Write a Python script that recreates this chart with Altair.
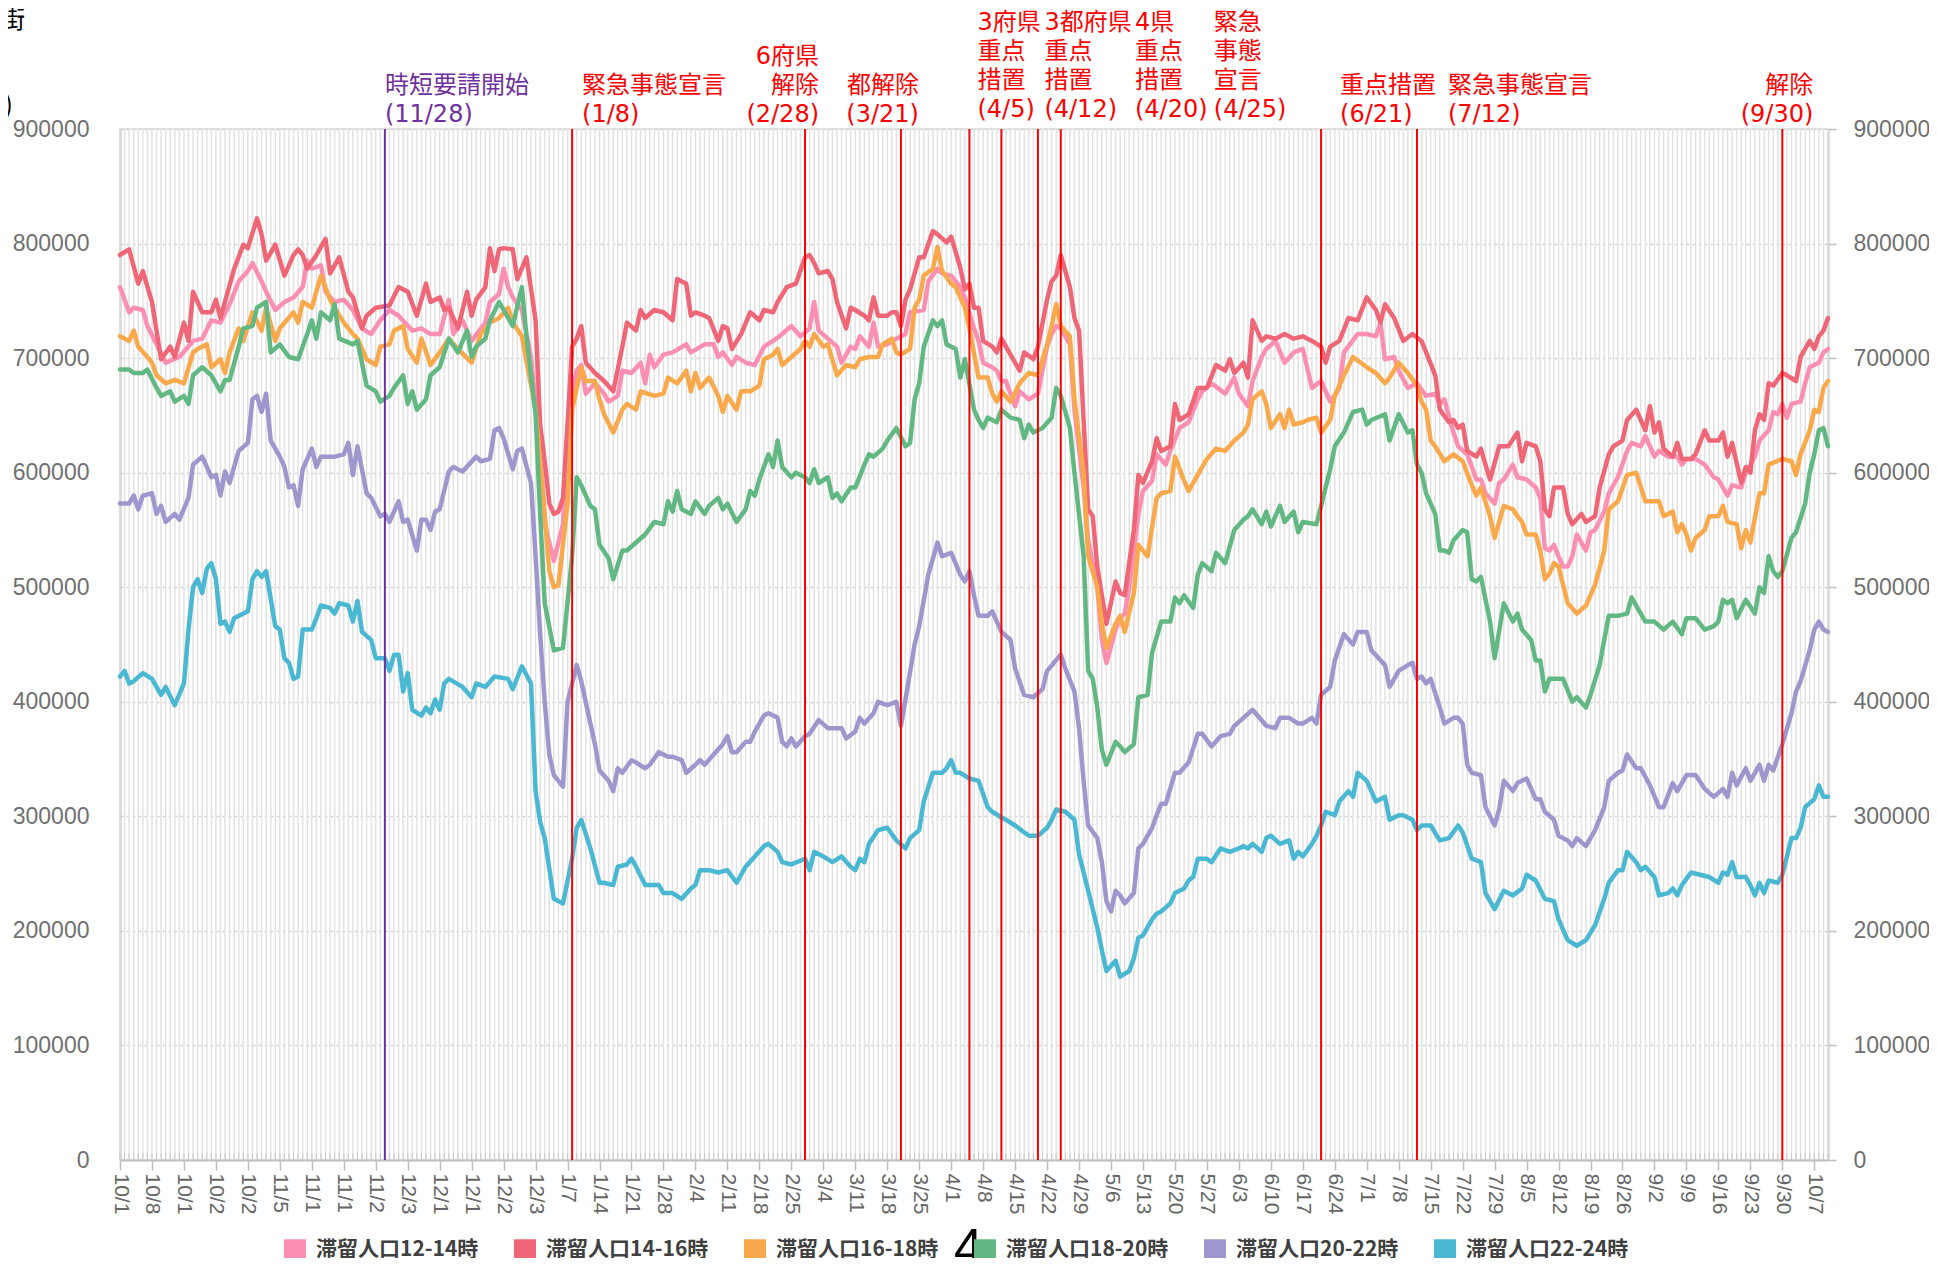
import json
import pandas as pd
import altair as alt

# ---------------- data ----------------
START = "2020-10-01"
LAST_DAY = 374  # 2021-10-10

SERIES = ["滞留人口12-14時", "滞留人口14-16時", "滞留人口16-18時",
          "滞留人口18-20時", "滞留人口20-22時", "滞留人口22-24時"]
COLORS = ["#fb8fb2", "#ef6677", "#f9a94b", "#62b882", "#9d97cd", "#4ab8d2"]

UNIT = 1000  # values below are in thousands of people

# 12-14時
S1_DAY = [0,2,3,5,6,8,10,13,16,18,20,22,24,26,28,29,31,32,34,36,38,40,41,42,44,45,47,49,51,53,55,57,59,61,64,66,68,70,72,73,75,77,80,81,83,84,85,86,88,90,92,93,95,97,98,100,101,102,104,106,107,109,110,112,114,115,116,117,119,121,124,125,128,130,131,132,134,135,137,139,141,143,145,147,149,151,152,153,155,157,158,160,161,162,164,165,166,168,170,172,173,176,177,179,180,182,184,185,187,188,189,191,192,193,194,196,197,199,201,203,204,205,206,208,209,211,212,214,215,216,218,219,220,221,223,224,226,227,229,230,232,234,236,237,239,242,244,245,247,248,250,251,253,255,257,259,261,263,265,267,268,271,273,275,276,277,279,280,282,284,286,288,289,290,292,293,295,297,298,299,301,302,303,305,306,308,310,311,312,313,314,315,316,317,318,319,321,322,323,325,326,328,330,331,333,334,336,337,339,341,342,343,345,347,349,350,351,352,353,355,356,358,359,361,362,363,364,365,366,368,369,370,372,373,374]
S1_VAL = [762,740,744,742,728,712,696,701,715,717,733,731,747,767,776,783,767,758,742,749,753,762,785,778,781,758,749,751,742,726,721,733,742,737,724,726,721,721,751,721,733,715,731,749,756,778,762,753,742,701,619,555,523,555,642,689,694,669,678,669,662,667,689,687,696,678,703,692,703,705,712,705,712,712,701,705,694,701,696,694,710,715,721,728,719,726,749,724,717,710,696,710,708,719,710,731,710,712,717,721,740,742,767,778,774,772,762,753,726,715,696,692,689,680,680,658,671,664,669,710,721,728,726,712,655,587,541,500,454,434,463,473,477,500,564,584,593,616,607,619,639,644,664,671,678,669,683,669,658,680,701,708,715,696,705,708,674,680,662,674,705,721,721,719,731,699,701,689,674,678,667,669,660,664,635,623,616,594,594,582,573,591,594,607,596,594,587,578,534,532,537,527,518,518,527,546,532,548,550,566,582,596,619,626,623,632,614,619,614,614,607,612,612,607,596,594,587,580,589,587,600,614,628,637,653,651,660,648,660,662,678,692,696,705,708]

# 14-16時
S2_DAY = [0,2,4,5,7,9,11,12,14,15,16,18,20,21,22,25,27,28,30,31,32,34,36,38,39,40,41,43,45,46,48,50,51,53,54,56,59,61,63,65,67,68,70,71,72,74,76,77,78,80,81,82,83,84,86,87,89,91,92,93,94,95,96,97,98,99,100,101,102,104,106,108,110,111,113,114,115,117,119,121,122,124,125,126,128,129,131,132,133,134,136,138,140,141,143,144,146,148,150,151,152,153,155,156,157,159,160,161,163,164,165,166,168,169,170,171,172,173,175,176,178,179,181,182,184,185,186,187,188,189,191,192,193,195,197,198,200,201,203,204,205,206,208,209,210,211,212,213,214,216,218,219,220,222,223,224,226,227,228,230,231,232,234,236,238,240,242,243,244,246,247,248,250,251,253,255,257,259,261,263,264,265,267,269,271,273,275,276,277,279,281,283,285,286,288,289,291,292,293,294,295,297,298,299,300,302,304,306,307,308,310,311,312,313,314,316,317,318,320,321,323,324,326,327,329,330,332,334,335,336,337,338,340,341,342,344,345,347,348,350,351,352,353,355,356,357,358,359,360,361,362,364,365,367,368,370,371,372,373,374]
S2_VAL = [790,795,765,776,749,699,710,701,731,715,758,740,740,751,735,778,799,796,822,808,785,799,772,790,795,790,778,790,804,774,788,758,753,726,737,744,746,762,758,737,765,749,753,742,744,726,758,737,751,762,796,776,795,796,795,769,788,733,642,610,573,564,566,578,642,710,717,728,696,687,680,671,710,731,724,742,735,742,740,733,769,765,737,740,737,735,715,728,726,708,721,740,733,742,740,749,762,765,788,790,783,774,776,769,749,726,744,742,737,733,753,737,737,740,740,728,751,760,788,788,811,808,801,806,779,760,765,744,744,715,710,705,717,703,689,705,699,710,751,767,772,790,762,735,724,646,568,562,518,468,505,495,493,550,598,591,610,630,619,623,660,646,651,674,674,694,689,699,687,696,683,733,715,719,717,721,717,719,715,710,696,710,715,735,733,753,742,731,747,735,715,721,715,705,685,655,644,646,639,642,619,614,621,607,594,623,623,635,610,626,623,610,568,562,587,587,564,555,564,557,562,587,616,623,628,646,655,637,658,635,644,621,614,626,612,612,616,637,628,628,635,614,626,591,605,600,637,651,646,678,676,687,685,680,701,715,708,719,724,735]

# 16-18時
S3_DAY = [0,2,3,4,6,7,8,10,12,14,16,17,19,20,22,23,24,26,27,29,31,32,34,35,38,39,40,42,44,46,47,49,51,52,54,56,57,59,60,62,63,65,66,68,70,72,74,77,79,81,83,85,86,88,91,93,94,95,96,98,99,101,102,104,105,106,108,110,111,113,114,117,119,120,122,124,125,126,127,129,131,132,133,135,136,138,140,141,143,144,145,147,149,150,151,152,154,155,157,159,161,162,164,166,167,169,170,171,173,174,175,176,178,179,180,182,183,185,186,188,190,191,192,193,195,197,199,201,203,204,205,206,208,209,211,212,214,215,216,218,219,220,222,223,225,227,228,230,231,233,234,236,238,240,242,244,246,247,248,250,251,252,254,255,256,257,259,260,262,263,265,266,268,270,273,275,277,278,280,282,284,285,286,287,288,290,292,294,296,297,298,300,301,303,305,306,307,308,310,311,312,313,314,315,317,319,321,323,325,326,328,330,332,334,336,337,338,340,341,342,343,344,345,347,348,350,351,352,354,355,356,357,359,360,361,364,366,367,368,370,371,372,373,374]
S3_VAL = [719,715,724,710,701,696,685,678,681,678,705,708,712,692,699,687,705,726,715,740,724,744,715,726,740,731,749,744,772,751,744,731,721,717,699,694,710,712,724,728,708,696,717,694,705,717,708,696,721,731,735,744,731,719,655,564,514,500,502,573,655,692,680,680,664,651,635,655,660,655,671,667,669,683,678,689,671,687,674,683,667,653,667,655,671,671,676,699,703,708,694,701,708,715,710,721,710,712,685,694,692,699,701,701,712,717,705,703,708,744,751,772,778,797,776,765,762,744,726,683,683,669,662,671,662,678,687,685,712,728,747,728,719,664,600,527,500,468,447,468,475,461,495,537,527,578,582,584,614,593,584,598,612,621,619,628,635,642,664,671,660,639,651,639,655,642,644,646,648,635,646,667,685,701,692,687,678,683,696,687,676,662,655,628,623,610,616,610,589,580,587,562,543,571,568,562,557,546,546,532,507,512,521,518,486,477,484,502,532,568,575,598,600,575,575,575,562,566,548,555,546,532,543,550,562,562,571,557,555,534,550,539,582,582,607,612,610,598,616,637,655,653,674,680]

# 18-20時
S4_DAY = [0,2,3,5,6,8,9,11,12,14,15,16,18,20,22,23,24,26,27,29,30,32,33,35,37,39,41,42,43,44,46,47,48,51,52,54,56,57,59,60,62,63,64,65,67,68,70,72,74,76,77,78,80,81,83,84,86,88,89,91,92,93,95,97,99,100,101,103,104,105,107,108,110,111,113,115,117,119,120,121,122,123,125,126,128,129,131,132,133,135,137,138,139,140,142,143,144,145,147,148,150,151,152,153,155,156,157,158,160,161,163,164,165,167,168,170,172,173,174,175,176,178,179,180,181,183,184,185,187,188,189,190,192,193,195,197,198,199,200,202,204,205,206,208,209,211,212,213,214,215,216,218,219,220,222,223,225,226,228,230,231,232,233,235,236,237,239,240,242,244,246,247,248,250,251,252,254,255,257,258,259,262,264,265,266,268,270,272,273,274,277,278,280,282,283,284,285,286,288,289,290,291,292,294,295,296,297,298,300,301,303,305,306,307,309,310,311,312,313,316,318,319,321,322,324,325,326,328,330,331,333,334,336,338,340,342,343,345,347,349,350,351,352,353,354,356,358,359,360,361,362,363,364,366,367,369,370,371,372,373,374]
S4_VAL = [690,690,687,687,690,674,667,671,662,667,660,685,692,685,671,681,681,710,726,728,744,749,705,712,701,699,721,733,717,740,733,747,717,712,715,676,671,662,667,674,685,660,671,655,664,685,692,717,705,724,701,710,717,733,749,742,728,762,719,651,564,486,445,447,527,596,589,571,568,537,525,507,532,532,539,546,557,555,575,566,584,568,564,575,564,571,578,568,573,557,568,584,580,594,616,605,628,605,596,600,596,591,603,591,596,578,582,575,587,587,607,616,614,621,628,639,623,626,664,678,710,733,728,733,712,708,683,699,655,646,639,648,644,655,648,646,630,642,635,639,648,674,667,639,600,527,427,420,395,358,345,365,361,356,363,404,406,443,470,470,491,486,493,482,511,521,514,530,521,550,559,562,568,555,566,553,571,557,566,548,557,555,587,603,623,635,653,655,642,646,651,628,651,635,637,607,600,582,564,532,532,530,541,550,548,507,505,509,470,438,486,470,477,463,454,436,436,409,420,420,400,404,395,406,432,454,475,475,477,491,477,470,470,463,470,459,473,473,463,466,470,489,486,489,473,489,477,500,495,527,514,509,514,543,548,573,600,616,637,639,623]

# 20-22時
S5_DAY = [0,2,3,4,5,7,8,9,10,12,13,15,16,18,20,21,22,23,24,26,28,29,30,31,32,33,35,36,37,38,39,40,42,43,44,47,49,50,51,52,54,55,57,58,59,61,62,63,65,66,67,68,69,70,72,73,75,78,79,81,82,83,84,86,87,88,90,91,92,93,94,95,97,98,100,101,103,104,105,107,108,109,110,112,113,115,116,118,120,121,123,124,126,127,128,130,132,133,134,135,137,138,139,141,142,144,145,146,147,148,150,151,153,155,157,158,159,161,162,163,165,166,168,170,171,172,174,175,177,178,179,180,182,184,185,186,187,188,190,191,192,193,195,196,198,200,202,203,206,207,209,210,211,212,214,215,216,217,218,219,220,222,223,224,226,227,228,229,231,232,234,236,237,239,241,243,244,246,248,251,253,254,256,258,259,261,262,263,265,266,268,270,271,273,274,277,278,280,282,283,284,285,286,287,289,290,292,293,294,295,296,298,299,301,302,303,305,306,308,310,311,312,314,315,317,318,319,321,323,325,326,328,329,330,332,333,335,337,338,340,341,343,345,347,349,351,352,353,354,356,357,359,360,361,362,364,366,367,368,370,371,372,373,374]
S5_VAL = [573,573,580,568,580,582,564,571,557,564,559,578,607,614,596,598,580,601,591,619,626,664,667,653,669,628,614,605,587,589,571,603,621,605,614,614,616,626,598,623,582,578,562,564,557,575,557,559,532,559,559,550,566,568,601,605,601,614,610,612,637,639,630,603,619,621,591,527,459,400,354,336,326,400,432,418,381,363,340,331,322,342,338,349,347,342,345,356,352,352,349,338,345,349,345,354,363,370,356,356,365,365,374,388,390,386,365,361,368,361,370,372,384,377,377,377,368,374,386,381,390,400,397,400,379,402,450,466,511,525,539,527,530,511,505,514,493,475,475,479,470,461,454,429,406,404,411,427,441,429,409,377,331,292,281,260,226,217,235,231,224,233,272,276,290,301,311,311,338,338,347,372,372,361,370,372,379,386,393,379,377,386,386,381,381,386,381,406,413,436,459,450,461,461,445,432,413,427,432,434,420,422,416,420,395,381,386,386,381,345,338,336,308,292,306,331,322,329,333,315,315,304,297,283,279,274,281,274,288,308,331,338,340,354,342,342,327,308,308,329,322,336,336,324,317,324,317,338,327,342,331,345,331,345,340,363,390,409,418,445,463,470,463,461]

# 22-24時
S6_DAY = [0,1,2,3,5,7,9,10,12,14,15,16,17,18,19,20,21,22,23,24,25,28,29,30,31,32,34,35,36,37,38,39,40,42,43,44,46,47,48,50,51,52,53,55,56,58,59,60,61,62,63,64,66,67,68,69,70,71,72,75,77,78,80,82,85,86,88,90,91,92,93,95,97,99,100,101,103,105,106,108,109,111,112,113,115,118,119,121,123,125,126,127,129,131,133,135,137,139,141,142,144,145,147,150,151,152,154,156,158,160,161,162,163,164,166,168,170,172,173,175,176,178,180,181,182,183,184,186,188,190,191,193,194,196,199,201,203,204,205,207,209,210,212,213,214,215,216,218,219,221,222,223,224,226,227,228,230,231,233,234,235,236,238,239,241,243,245,246,247,248,250,251,252,254,256,257,258,259,261,262,263,264,266,267,269,270,271,273,275,277,278,280,281,283,284,285,287,289,291,293,294,296,298,299,301,303,305,307,308,310,312,314,315,317,319,321,323,325,326,328,329,330,332,333,334,336,337,339,340,341,342,344,346,348,350,351,352,353,354,356,357,358,359,360,361,363,364,365,366,367,368,369,371,372,373,374]
S6_VAL = [422,427,416,418,425,420,406,413,397,416,463,500,507,495,516,521,507,468,470,461,473,479,507,514,509,514,466,463,438,434,420,422,463,463,473,484,482,477,486,484,470,488,461,454,438,438,427,441,441,409,425,393,388,395,390,402,393,416,420,413,404,416,413,422,420,411,431,416,322,295,281,228,224,263,290,297,272,242,242,240,256,258,263,256,240,240,233,233,228,237,240,253,253,251,253,242,256,265,274,276,269,260,258,263,253,269,265,260,265,256,253,263,260,276,288,290,279,272,281,288,313,338,338,342,349,338,338,333,331,308,304,299,297,292,283,283,290,297,306,304,297,267,235,219,203,183,165,174,160,165,176,194,196,210,215,217,224,233,237,244,247,263,263,260,272,269,272,274,272,276,269,281,283,276,279,263,269,265,276,283,292,304,301,313,322,317,338,331,313,317,297,301,301,297,288,292,292,279,281,292,286,263,260,233,219,235,231,237,249,244,228,226,210,192,187,192,205,228,242,253,253,269,260,253,256,247,231,233,237,231,240,251,249,247,242,251,249,260,247,247,240,231,242,233,244,242,249,265,281,281,290,308,315,327,317,317]

# x-axis: weekly tick labels (Excel truncates them to 4 characters)
TICK_LABELS = ["10/1", "10/8", "10/1", "10/2", "10/2", "11/5", "11/1", "11/1", "11/2",
               "12/3", "12/1", "12/1", "12/2", "12/3", "1/7", "1/14", "1/21", "1/28",
               "2/4", "2/11", "2/18", "2/25", "3/4", "3/11", "3/18", "3/25", "4/1",
               "4/8", "4/15", "4/22", "4/29", "5/6", "5/13", "5/20", "5/27", "6/3",
               "6/10", "6/17", "6/24", "7/1", "7/8", "7/15", "7/22", "7/29", "8/5",
               "8/12", "8/19", "8/26", "9/2", "9/9", "9/16", "9/23", "9/30", "10/7"]

# events
EVENT_DATES = ["2020-11-28", "2021-01-08", "2021-02-28", "2021-03-21", "2021-04-05",
               "2021-04-12", "2021-04-20", "2021-04-25", "2021-06-21", "2021-07-12",
               "2021-09-30"]
EVENT_KIND = ["時短要請", "宣言等", "宣言等", "宣言等", "宣言等", "宣言等",
              "宣言等", "宣言等", "宣言等", "宣言等", "宣言等"]
EVENT_TEXT = ["時短要請開始\n(11/28)", "緊急事態宣言\n(1/8)", "6府県\n解除\n(2/28)",
              "都解除\n(3/21)", "3府県\n重点\n措置\n(4/5)", "3都府県\n重点\n措置\n(4/12)",
              "4県\n重点\n措置\n(4/20)", "緊急\n事態\n宣言\n(4/25)", "重点措置\n(6/21)",
              "緊急事態宣言\n(7/12)", "解除\n(9/30)"]

# ---------------- layout / style ----------------
W, H = 1708, 1031
PAD = {"left": 112, "top": 121, "right": 101, "bottom": 98}
KIND_DOMAIN = ["時短要請", "宣言等"]
KIND_RANGE = ["#7030a0", "#ff0000"]
ANNOT_DX = [0, 10, 14, 18, 8, 43, 97, 153, 19, 31, 31]
ANNOT_ALIGN = ["left", "left", "right", "right", "left", "left", "left", "left",
               "left", "left", "right"]
LINE_H = 29
NUM_FONT = "Liberation Sans"
ANNOT_FONT = "DejaVu Sans, Noto Sans CJK JP"
CJK_FONT = "Noto Sans CJK JP"
AXIS_GRAY = "#bfbfbf"

start = pd.Timestamp(START)


def day_of(s):
    return (pd.Timestamp(s) - start).days


rows = []
for name, days, vals in zip(SERIES,
                            [S1_DAY, S2_DAY, S3_DAY, S4_DAY, S5_DAY, S6_DAY],
                            [S1_VAL, S2_VAL, S3_VAL, S4_VAL, S5_VAL, S6_VAL]):
    for d, v in zip(days, vals):
        rows.append({"series": name, "day": d, "value": v * UNIT})
df = pd.DataFrame(rows)

all_days = pd.DataFrame({"day": list(range(0, LAST_DAY + 1))})
tick_days = list(range(0, 7 * len(TICK_LABELS), 7))

xscale = alt.Scale(domain=[0, LAST_DAY], nice=False, zero=False)
yvals = list(range(0, 900001, 100000))

x_axis = alt.Axis(values=tick_days,
                  labelExpr=json.dumps(TICK_LABELS) + "[round(datum.value / 7)]",
                  labelAngle=90, labelAlign="left", labelBaseline="middle",
                  labelFont=NUM_FONT, labelFontSize=21, labelColor="#666666",
                  labelPadding=3, labelOverlap=False, labelBound=False, labelFlush=False,
                  tickSize=10, tickColor=AXIS_GRAY, tickWidth=1.5,
                  domainColor=AXIS_GRAY, domainWidth=2, grid=False, title=None)
X_NOAXIS = alt.X("day:Q", scale=xscale, axis=None)

stripes = alt.Chart(all_days).mark_rule(color="#e2e2e2", strokeWidth=1.5).encode(
    x=X_NOAXIS, y=alt.value(0), y2=alt.value(H))

minor_ticks = alt.Chart(all_days).mark_rule(color="#c9c9c9", strokeWidth=1).encode(
    x=X_NOAXIS, y=alt.value(H - 7), y2=alt.value(H))

legend = alt.Legend(orient="none", legendX=164, legendY=1110, direction="horizontal",
                    columns=6, symbolType="square", symbolSize=121,
                    symbolStrokeWidth=11, symbolOpacity=1,
                    labelFont=CJK_FONT, labelFontSize=21, labelFontWeight="bold",
                    labelColor="#404040", labelOffset=10, columnPadding=18,
                    padding=0, title=None, labelLimit=400, zindex=0)

lines = alt.Chart(df).mark_line(strokeWidth=4.5, strokeJoin="round", strokeCap="round").encode(
    x=alt.X("day:Q", scale=xscale, axis=x_axis),
    y=alt.Y("value:Q", scale=alt.Scale(domain=[0, 900000], nice=False),
            axis=alt.Axis(values=yvals, format="d", labelFont=NUM_FONT, labelFontSize=23,
                          labelColor="#707070", tickSize=0, labelPadding=31,
                          domainColor=AXIS_GRAY, domainWidth=2, grid=True,
                          gridColor="#d3d3d3", gridDash=[3, 3], gridWidth=1.5,
                          title=None)),
    color=alt.Color("series:N", scale=alt.Scale(domain=SERIES, range=COLORS),
                    legend=legend))

right_axis = alt.Chart(pd.DataFrame({"v": [0, 900000]})).mark_point(opacity=0).encode(
    y=alt.Y("v:Q", scale=alt.Scale(domain=[0, 900000], nice=False),
            axis=alt.Axis(orient="right", values=yvals, format="d", labelFont=NUM_FONT,
                          labelFontSize=23, labelColor="#707070", tickSize=8,
                          tickColor=AXIS_GRAY, tickWidth=1.5, labelPadding=17,
                          domainColor=AXIS_GRAY, domainWidth=2, grid=False, title=None)))

ev = pd.DataFrame({"day": [day_of(d) for d in EVENT_DATES],
                   "kind": EVENT_KIND, "text": EVENT_TEXT})

event_rules = alt.Chart(ev).mark_rule(strokeWidth=2).encode(
    x=X_NOAXIS,
    y=alt.value(0), y2=alt.value(H),
    stroke=alt.Stroke("kind:N", scale=alt.Scale(domain=KIND_DOMAIN, range=KIND_RANGE),
                      legend=None))

annots = []
for i in range(len(ev)):
    n_lines = EVENT_TEXT[i].count("\n") + 1
    annots.append(
        alt.Chart(ev.iloc[[i]]).mark_text(
            align=ANNOT_ALIGN[i], dx=ANNOT_DX[i], baseline="top", lineBreak="\n",
            lineHeight=LINE_H, font=ANNOT_FONT, fontSize=24).encode(
            x=X_NOAXIS,
            y=alt.value(3 - LINE_H * n_lines - 5 * max(0, n_lines - 3)),
            text="text:N",
            fill=alt.Fill("kind:N", scale=alt.Scale(domain=KIND_DOMAIN, range=KIND_RANGE),
                          legend=None)))

corner_title = alt.Chart(pd.DataFrame({"t": ["主要繁華街"]})).mark_text(
    align="right", baseline="middle", font=CJK_FONT, fontSize=24, color="#000000").encode(
    x=alt.value(-95), y=alt.value(-108), text="t:N")
corner_unit = alt.Chart(pd.DataFrame({"t": ["(人)"]})).mark_text(
    align="right", baseline="middle", font=CJK_FONT, fontSize=26, color="#000000").encode(
    x=alt.value(-107), y=alt.value(-23), text="t:N")
page_no = alt.Chart(pd.DataFrame({"t": ["4"]})).mark_text(
    align="left", baseline="alphabetic", font=NUM_FONT, fontSize=52, color="#000000").encode(
    x=alt.value(834), y=alt.value(1136), text="t:N")

chart = alt.layer(
    stripes, minor_ticks, lines, right_axis, event_rules, *annots,
    corner_title, corner_unit, page_no
).resolve_scale(y="independent").resolve_axis(x="independent").properties(
    width=W, height=H,
    autosize=alt.AutoSizeParams(type="none"),
    padding=PAD,
    background="#ffffff",
).configure_view(stroke="#d9d9d9", strokeWidth=1.5)

chart.save("out.html", embed_options={"renderer": "svg", "actions": False})
